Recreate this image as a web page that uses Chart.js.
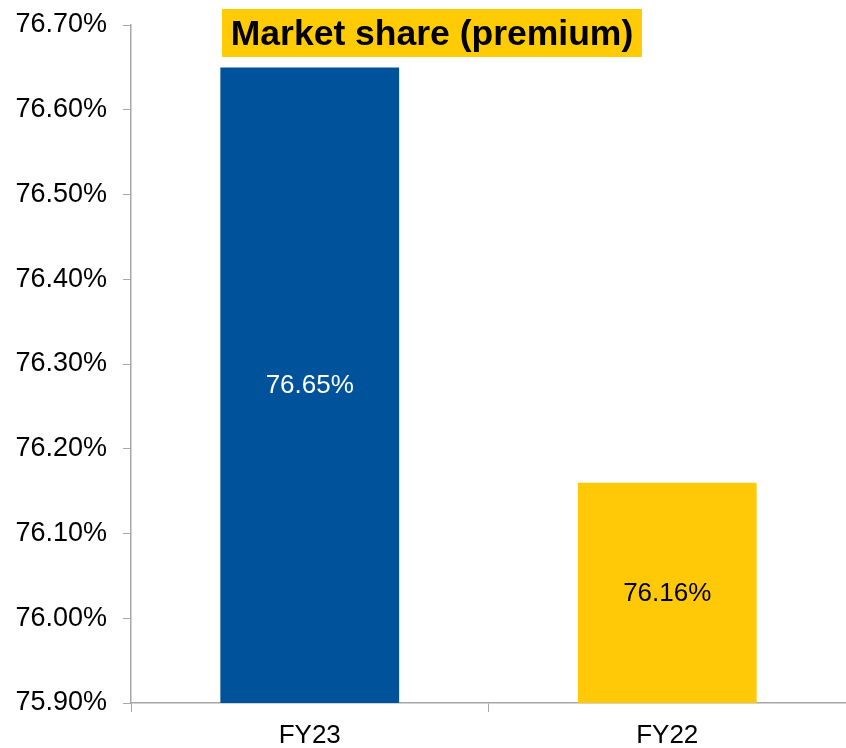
<!DOCTYPE html>
<html>
<head>
<meta charset="utf-8">
<script src="https://cdn.jsdelivr.net/npm/chart.js@4"></script>
<style>
  html, body { margin: 0; padding: 0; background: #fff; }
  #wrap { width: 846px; height: 748px; }
</style>
</head>
<body>
<div id="wrap"><canvas id="shareChart" width="846" height="748"></canvas></div>
<script>
const categories = ['FY23', 'FY22'];
const shareValues = [76.65, 76.16];
const barColors = ['#00529B', '#FFC907'];
const labelColors = ['#ffffff', '#000000'];
const yTicks = [75.9, 76.0, 76.1, 76.2, 76.3, 76.4, 76.5, 76.6, 76.7];
const chartTitle = 'Market share (premium)';

const FONT = '"Liberation Sans", Arial, Helvetica, sans-serif';

// value labels in the middle of each bar + yellow title box over the plot
const overlay = {
    id: 'overlay',
    afterDraw(chart) {
        const c = chart.ctx;
        const xs = chart.scales.x;
        const ys = chart.scales.y;
        c.save();
        c.font = '26px ' + FONT;
        c.textAlign = 'center';
        c.textBaseline = 'middle';
        shareValues.forEach((v, i) => {
            const x = xs.getPixelForValue(i);
            const top = ys.getPixelForValue(v);
            const mid = (top + ys.bottom) / 2;
            c.fillStyle = labelColors[i];
            c.fillText(v.toFixed(2) + '%', x, mid + 1);
        });

        c.fillStyle = '#FFCB05';
        c.fillRect(222, 9, 420, 48);
        c.fillStyle = '#000';
        c.font = 'bold 35.5px ' + FONT;
        c.fillText(chartTitle, 432, 35);
        c.restore();
    }
};

const ctx = document.getElementById('shareChart').getContext('2d');
new Chart(ctx, {
    type: 'bar',
    data: {
        labels: categories,
        datasets: [{
            data: shareValues,
            backgroundColor: barColors,
            borderWidth: 0,
            categoryPercentage: 1.0,
            barPercentage: 0.5
        }]
    },
    options: {
        responsive: false,
        animation: false,
        layout: { padding: { top: 25, right: -4, left: 0, bottom: 0 } },
        plugins: {
            legend: { display: false },
            tooltip: { enabled: false }
        },
        scales: {
            x: {
                offset: true,
                afterFit: (scale) => {
                    scale.height = 45;
                    scale.paddingLeft = 0;
                    scale.paddingRight = 0;
                },
                grid: {
                    offset: true,
                    drawOnChartArea: false,
                    drawTicks: true,
                    tickLength: 9,
                    color: '#a6a6a6'
                },
                border: { color: '#a6a6a6', width: 1.5 },
                ticks: {
                    color: '#000',
                    padding: 8,
                    font: { family: FONT, size: 26 }
                }
            },
            y: {
                min: 75.9,
                max: 76.7,
                afterFit: (scale) => {
                    scale.width = 131;
                    scale.paddingTop = 0;
                    scale.paddingBottom = 0;
                },
                afterBuildTicks: (scale) => {
                    scale.ticks = yTicks.map(v => ({ value: v }));
                },
                grid: {
                    drawOnChartArea: false,
                    drawTicks: true,
                    tickLength: 8,
                    color: '#a6a6a6'
                },
                border: { color: '#a6a6a6', width: 1.5 },
                ticks: {
                    color: '#000',
                    padding: 16,
                    font: { family: FONT, size: 27 },
                    callback: (v) => Number(v).toFixed(2) + '%'
                }
            }
        }
    },
    plugins: [overlay]
});
</script>
</body>
</html>
